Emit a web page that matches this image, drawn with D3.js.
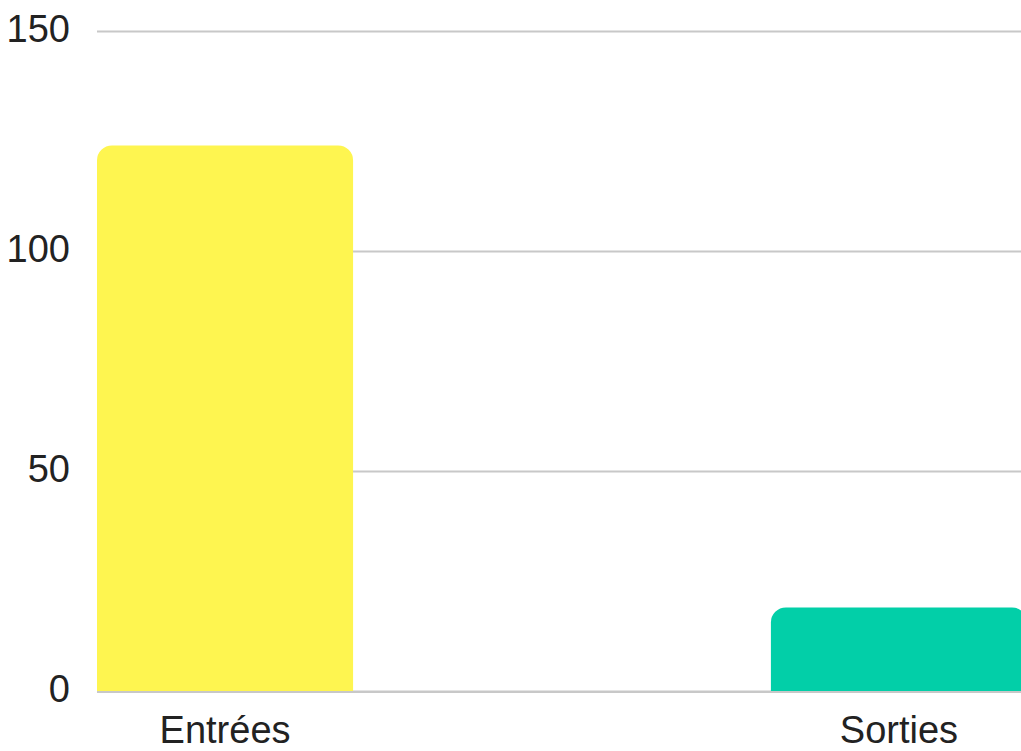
<!DOCTYPE html>
<html>
<head>
<meta charset="utf-8">
<script src="https://cdn.jsdelivr.net/npm/d3@7"></script>
<style>
  html, body { margin: 0; padding: 0; background: #fff; }
  svg { display: block; font-family: "Liberation Sans", Arial, sans-serif; }
</style>
</head>
<body>
<div id="root"><svg width="1021" height="751"></svg></div>
<script>
const categories = ['Entrées', 'Sorties'];
const values = [124, 19];
const barColors = ['#fef550', '#02cfa8'];
const yTicks = [0, 50, 100, 150];

function drawChart() {
  const plotLeft = 97;
  const plotRight = 1021;
  const bandRight = 1027; // last bar runs past the edge and gets clipped
  const plotTop = 31;
  const plotBottom = 691;
  const radius = 15;

  const svg = d3.select('#root svg');

  const xScale = d3.scaleBand()
    .domain(categories)
    .range([plotLeft, bandRight])
    .paddingInner(0.62)
    .paddingOuter(0);
  const yScale = d3.scaleLinear().domain([0, 150]).range([plotBottom, plotTop]);

  // gridlines + y labels
  const yAxis = d3.axisLeft(yScale)
    .tickValues(yTicks)
    .tickSize(-(plotRight - plotLeft))
    .tickPadding(27)
    .tickFormat(d3.format('d'));
  const yG = svg.append('g')
    .attr('transform', `translate(${plotLeft} 0)`)
    .call(yAxis);
  yG.select('.domain').remove();
  yG.selectAll('.tick line')
    .attr('stroke', '#c8c8c8')
    .attr('stroke-width', 2);
  yG.selectAll('.tick text')
    .attr('font-size', '38px')
    .attr('fill', '#222')
    .attr('dy', '0.27em');

  // bars with rounded top corners
  svg.selectAll('path.bar')
    .data(categories)
    .enter()
    .append('path')
    .attr('class', 'bar')
    .attr('fill', (d, i) => barColors[i])
    .attr('d', (d, i) => {
      const x0 = xScale(d);
      const x1 = x0 + xScale.bandwidth();
      const y0 = yScale(values[i]);
      const y1 = yScale(0);
      const r = Math.min(radius, (y1 - y0));
      return `M${x0},${y1} L${x0},${y0 + r} A${r},${r} 0 0 1 ${x0 + r},${y0} ` +
        `L${x1 - r},${y0} A${r},${r} 0 0 1 ${x1},${y0 + r} L${x1},${y1} Z`;
    });

  // baseline on top of the bars
  svg.append('line')
    .attr('x1', plotLeft)
    .attr('x2', plotRight)
    .attr('y1', yScale(0) + 1)
    .attr('y2', yScale(0) + 1)
    .attr('stroke', '#c8c8c8')
    .attr('stroke-width', 2);

  // x labels
  const xAxis = d3.axisBottom(xScale).tickSize(0).tickPadding(0);
  const xG = svg.append('g')
    .attr('transform', `translate(0 ${plotBottom})`)
    .call(xAxis);
  xG.select('.domain').remove();
  xG.selectAll('.tick text')
    .attr('font-size', '38px')
    .attr('fill', '#222')
    .attr('dy', 52);
}

window.addEventListener('load', drawChart);
</script>
</body>
</html>
